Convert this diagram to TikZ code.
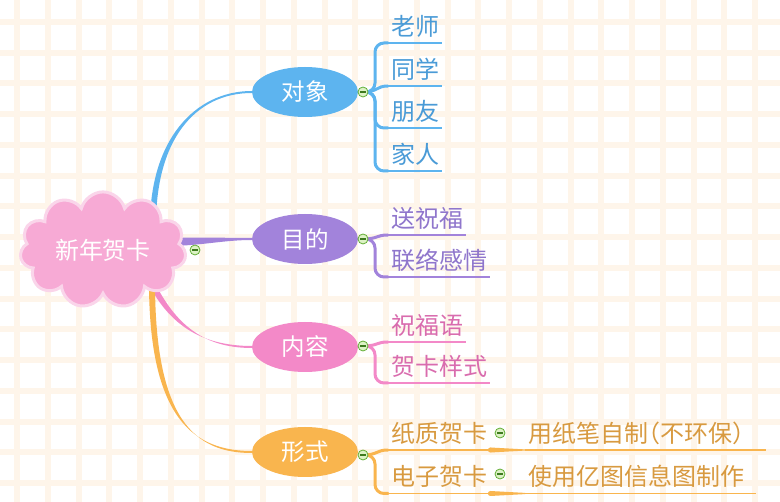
\documentclass[tikz,border=0pt]{standalone}
\usepackage{fontspec}
\setmainfont{Noto Sans CJK SC}
\usetikzlibrary{shapes.symbols,shapes.geometric,calc}
\pgfdeclarelayer{bg}
\pgfsetlayers{bg,main}
\definecolor{cblue}{HTML}{5DB4EF}
\definecolor{cpurple}{HTML}{A283DB}
\definecolor{cpink}{HTML}{F389C8}
\definecolor{corange}{HTML}{F9B54E}
\definecolor{tblue}{HTML}{4A9BD7}
\definecolor{tpurple}{HTML}{8F76CC}
\definecolor{tpink}{HTML}{D96CAE}
\definecolor{torange}{HTML}{D89A40}
\definecolor{cloudfill}{HTML}{F7AAD5}
\definecolor{cloudedge}{HTML}{FAD5EA}
\definecolor{gridc}{HTML}{FEF5EA}
\definecolor{tgline}{HTML}{62AE35}
\definecolor{tgfill}{HTML}{DDF2C6}
\definecolor{tgdark}{HTML}{3D7A1E}
\newcommand\mytaper[7]{\fill[#1] ($(#2)+(#6)$) .. controls ($(#3)+(#6)$) and ($(#4)+(#7)$) .. ($(#5)+(#7)$) -- ($(#5)-(#7)$) .. controls ($(#4)-(#7)$) and ($(#3)-(#6)$) .. ($(#2)-(#6)$) -- cycle;}
\begin{document}
\begin{tikzpicture}[x=1pt,y=-1pt,
  mainnode/.style={ellipse, minimum width=106pt, minimum height=50pt, inner sep=0pt, text=white, font=\fontsize{23.5}{24}\selectfont},
  subnode/.style={anchor=south west, inner xsep=3pt, inner ysep=4pt, text height=18pt, text depth=3.5pt, font=\fontsize{24}{26}\selectfont},
  toggle/.style={circle, minimum size=10pt, inner sep=0pt, draw=tgline, line width=0.8pt, fill=tgfill,
     path picture={\draw[line width=1.1pt, tgdark] ($(path picture bounding box.center)+(-2.6,0)$) -- ($(path picture bounding box.center)+(2.6,0)$);}},
  bracket/.style={line width=3pt, line cap=round},
  uline/.style={line width=1.3pt},
  gridl/.style={line width=6pt, gridc}]
\useasboundingbox (0,0) rectangle (780,502);

% central cloud
\node[cloud, cloud puffs=11, aspect=1.5, minimum width=166pt, minimum height=108pt, fill=cloudfill, draw=cloudedge, line width=3pt, text=white, inner sep=0pt, font=\fontsize{24}{26}\selectfont] (root) at (103,250) {新年贺卡};

% main topics
\node[mainnode, fill=cblue] (obj) at (305,92) {对象};
\node[mainnode, fill=cpurple] (aim) at (305,239) {目的};
\node[mainnode, fill=cpink] (cont) at (305,347) {内容};
\node[mainnode, fill=corange] (form) at (305,452) {形式};

% subtopics
\node[subnode, text=tblue] (b1) at (388,43) {老师};
\node[subnode, text=tblue] (b2) at (388,86) {同学};
\node[subnode, text=tblue] (b3) at (388,128) {朋友};
\node[subnode, text=tblue] (b4) at (388,171) {家人};
\node[subnode, text=tpurple] (p1) at (388,235) {送祝福};
\node[subnode, text=tpurple] (p2) at (388,277) {联络感情};
\node[subnode, text=tpink] (k1) at (388,342) {祝福语};
\node[subnode, text=tpink] (k2) at (388,383) {贺卡样式};
\node[subnode, text=torange] (o1) at (388,450) {纸质贺卡};
\node[subnode, text=torange] (o2) at (388,493.5) {电子贺卡};
\node[subnode, text=torange, font=\fontsize{24}{26}\selectfont\addfontfeatures{RawFeature=+halt}] (g1) at (525,450) {用纸笔自制（不环保）};
\node[subnode, text=torange] (g2) at (525,493.5) {使用亿图信息图制作};

% collapse toggles
\node[toggle] (tg0) at (195,250) {};
\node[toggle] (tg1) at (363,92) {};
\node[toggle] (tg2) at (363,239) {};
\node[toggle] (tg3) at (363,346) {};
\node[toggle] (tg4) at (363,455) {};
\node[toggle] (tg5) at (500,433) {};
\node[toggle] (tg6) at (500,474) {};

\begin{pgfonlayer}{bg}
  \fill[white] (0,0) rectangle (780,502);
  \begin{scope}
    \clip (0,0) rectangle (780,502);
    \foreach \i in {0,...,25} {\draw[gridl] ({17+\i*30.75},0) -- ({17+\i*30.75},502);}
    \foreach \j in {0,...,16} {\draw[gridl] (0,{22+\j*30.75}) -- (780,{22+\j*30.75});}
  \end{scope}

  % main branches (tapered)
  \coordinate (sb) at ($(root.center)+(50,-22)$);
  \coordinate (sp) at ($(root.center)+(70,-8)$);
  \coordinate (sk) at ($(root.center)+(46,28)$);
  \coordinate (so) at ($(root.center)+(49,32)$);
  \mytaper{cblue}{sb}{152,140}{195,92}{obj.west}{3,0}{0,1}
  \mytaper{cpurple}{sp}{205,241}{225,239}{aim.west}{0,4}{0,1}
  \mytaper{cpink}{sk}{170,322}{200,347}{cont.west}{2.7,-1.4}{0,1}
  \mytaper{corange}{so}{152,420}{195,452}{form.west}{3,0}{0,1}

  % blue brackets
  \draw[bracket,cblue,rounded corners=9pt] (tg1.center) -- (375,92) -- (375,43) -- (b1.south west);
  \draw[bracket,cblue] (tg1.center) .. controls (378,92) and (376,86) .. (b2.south west);
  \draw[bracket,cblue,rounded corners=9pt] (tg1.center) -- (375,92) -- (375,128) -- (b3.south west);
  \draw[bracket,cblue,rounded corners=9pt] (tg1.center) -- (375,92) -- (375,171) -- (b4.south west);
  \foreach \n in {b1,b2,b3,b4} {\draw[uline,cblue] (\n.south west) -- (\n.south east);}

  % purple brackets
  \draw[bracket,cpurple] (tg2.center) .. controls (378,239) and (376,235) .. (p1.south west);
  \draw[bracket,cpurple,rounded corners=9pt] (tg2.center) -- (375,239) -- (375,277) -- (p2.south west);
  \foreach \n in {p1,p2} {\draw[uline,cpurple] (\n.south west) -- (\n.south east);}

  % pink brackets
  \draw[bracket,cpink] (tg3.center) .. controls (378,346) and (376,342) .. (k1.south west);
  \draw[bracket,cpink,rounded corners=9pt] (tg3.center) -- (375,346) -- (375,383) -- (k2.south west);
  \foreach \n in {k1,k2} {\draw[uline,cpink] (\n.south west) -- (\n.south east);}

  % orange brackets
  \draw[bracket,corange] (tg4.center) .. controls (378,455) and (376,450) .. (o1.south west);
  \draw[bracket,corange,rounded corners=9pt] (tg4.center) -- (375,455) -- (375,493.5) -- (o2.south west);
  \foreach \n in {o1,o2} {\draw[uline,corange] (\n.south west) -- (\n.south east);}

  % grandchild connectors
  \fill[corange] ($(o1.south east)+(0,-2.5)$) -- ($(g1.south west)+(0,-0.6)$) -- ($(g1.south west)+(0,0.6)$) -- ($(o1.south east)+(0,2.5)$) -- cycle;
  \fill[corange] (o1.south east) circle (2.5pt);
  \fill[corange] ($(o2.south east)+(0,-2.5)$) -- ($(g2.south west)+(0,-0.6)$) -- ($(g2.south west)+(0,0.6)$) -- ($(o2.south east)+(0,2.5)$) -- cycle;
  \fill[corange] (o2.south east) circle (2.5pt);
  \draw[uline,corange] (g1.south west) -- ($(g1.south east)+(19,0)$);
  \draw[uline,corange] (g2.south west) -- ($(g2.south east)+(9,0)$);
\end{pgfonlayer}
\end{tikzpicture}
\end{document}
